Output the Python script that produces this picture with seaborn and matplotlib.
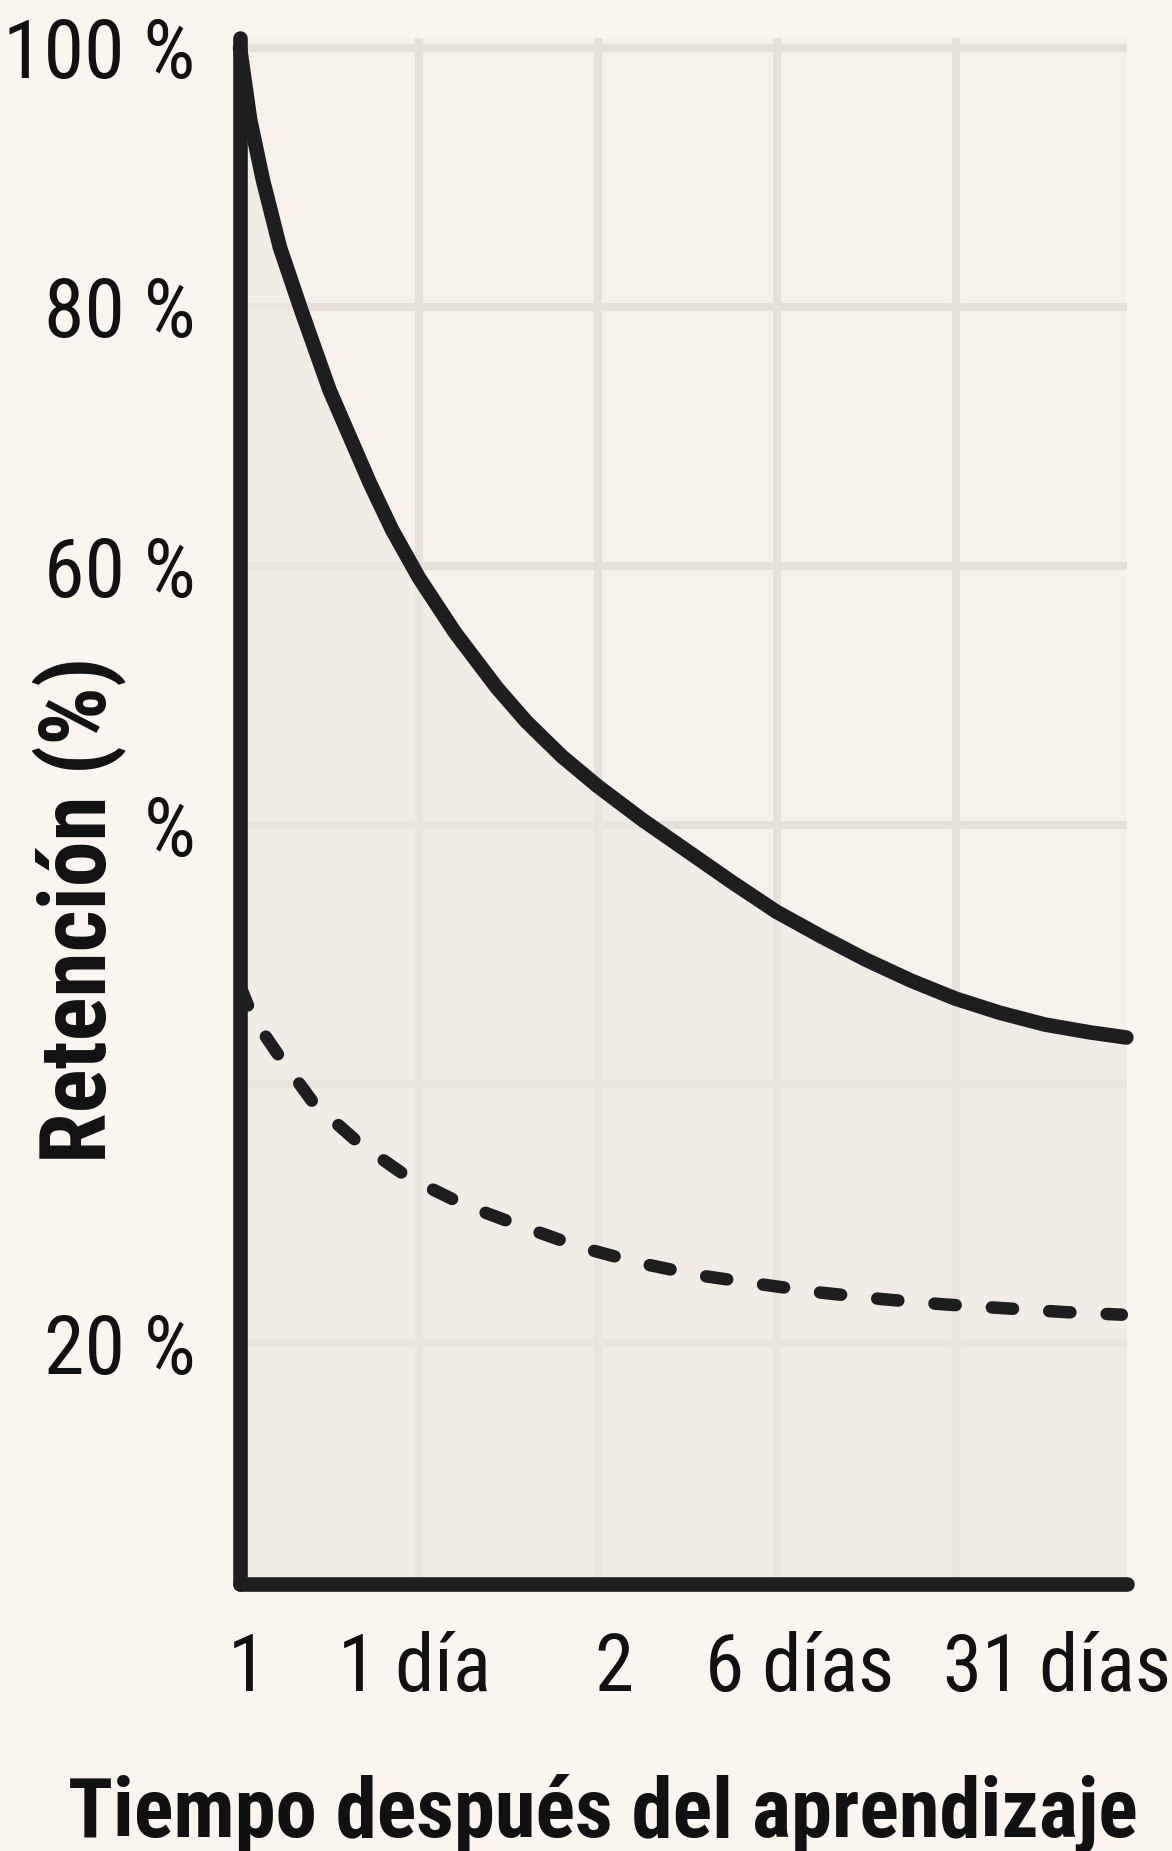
import pandas as pd
import seaborn as sns
import matplotlib.pyplot as plt
from matplotlib import transforms

# values (x = tick slot, y = axis units)
solid_x = [0, 0.056, 0.128, 0.223, 0.346, 0.5, 0.726, 0.85, 1.0, 1.2, 1.436,
           1.6, 1.8, 2.0, 2.25, 2.5, 2.75, 3.0, 3.25, 3.5, 3.75, 4.0, 4.25,
           4.5, 4.75, 4.955]
solid_y = [100, 94.5, 89.8, 84.6, 79.6, 73.6, 66.4, 62.8, 59.1, 54.9, 50.6,
           48.0, 45.3, 43.0, 40.4, 38.0, 35.6, 33.3, 31.4, 29.6, 28.0, 26.6, 25.5,
           24.6, 24.0, 23.6]
dashed_x = [0, 0.073, 0.207, 0.413, 0.66, 0.94, 1.25, 1.58, 1.905, 2.23, 2.56,
            2.905, 3.25, 3.59, 3.93, 4.27, 4.61, 4.93]
dashed_y = [27.6, 25.1, 22.4, 18.5, 15.5, 12.8, 10.7, 9.0, 7.4, 6.2, 5.25,
            4.56, 3.9, 3.4, 3.0, 2.7, 2.4, 2.2]

x_ticks = [0, 1, 2, 3, 4]
x_labels = ["1", "1 día", "2", "6 días", "31 días"]
y_ticks = [100, 80, 60, 40, 20, 0]
y_labels = ["100 %", "80 %", "60 %", "%", "", "20 %"]

solid = pd.DataFrame({"t": solid_x, "r": solid_y})
dashed = pd.DataFrame({"t": dashed_x, "r": dashed_y})

BG = "#faf5ef"
PLOT_BG = "#f6f1eb"
INK = "#1e1e1e"
GRID = "#e6e0da"
FONTS = ["Roboto Condensed", "Archivo Narrow", "Barlow Condensed", "DejaVu Sans"]

sns.set_theme(style="whitegrid", rc={
    "figure.facecolor": BG,
    "axes.facecolor": PLOT_BG,
    "grid.color": GRID,
    "grid.linewidth": 5.8,
})
plt.rcParams["font.family"] = FONTS

fig = plt.figure(figsize=(11.72, 18.51), dpi=100)
ax = fig.add_axes([0.2048, 0.1442, 0.757, 0.8355])
ax.set_axisbelow(True)

ax.fill_between(solid_x, solid_y, -18.6, color="#efe9e3", alpha=0.6, lw=0)

sns.lineplot(data=solid, x="t", y="r", ax=ax, color=INK, linewidth=10.5,
             solid_capstyle="round", solid_joinstyle="round", clip_on=False, zorder=4)
sns.lineplot(data=dashed, x="t", y="r", ax=ax, color=INK, linewidth=9,
             linestyle=(0, (1.7, 2.9)), dash_capstyle="round", clip_on=False, zorder=4)

ax.set_xlim(0, 4.96)
ax.set_ylim(-18.6, 100.8)
ax.set_xticks(x_ticks)
ax.set_xticklabels(x_labels)
ax.set_yticks(y_ticks)
ax.set_yticklabels(y_labels)
ax.set_xlabel("")
ax.set_ylabel("")

for side in ["top", "right"]:
    ax.spines[side].set_visible(False)
for side in ["left", "bottom"]:
    ax.spines[side].set_color(INK)
    ax.spines[side].set_linewidth(10.5)
    ax.spines[side].set_capstyle("round")
    ax.spines[side].set_zorder(5)

ax.tick_params(axis="y", direction="in", length=18, width=5, color=INK,
               pad=32, labelsize=59, labelcolor="#111111")
ax.tick_params(axis="x", direction="in", length=21, width=5, color=INK,
               pad=34, labelsize=57, labelcolor="#111111")

# the day labels sit a little right of their ticks in the reference
x_shift = [5, -3, 12, 16.5, 73]
for lab, dx in zip(ax.get_xticklabels(), x_shift):
    lab.set_transform(lab.get_transform() +
                      transforms.ScaledTranslation(dx / 72, 0, fig.dpi_scale_trans))

fig.text(0.1075, 0.3717, "Retención (%)", rotation=90, ha="right", va="bottom",
         fontsize=66, fontweight="bold", color="#111111")
fig.text(0.5145, 0.0076, "Tiempo después del aprendizaje", ha="center",
         va="baseline", fontsize=59.5, fontweight="bold", color="#111111")

fig.savefig("out.png", dpi=100, facecolor=BG)
